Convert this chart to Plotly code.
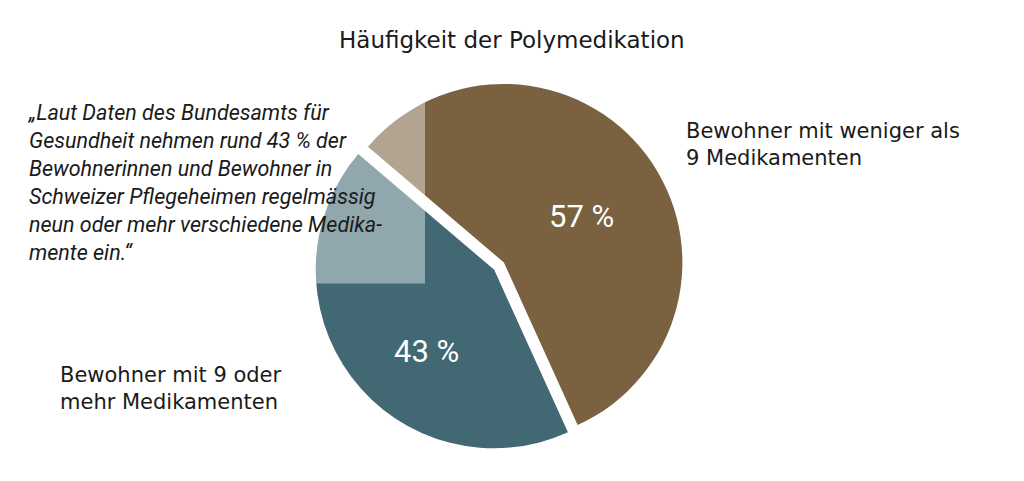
import plotly.graph_objects as go

categories = ["Bewohner mit weniger als<br>9 Medikamenten", "Bewohner mit 9 oder<br>mehr Medikamenten"]
values = [57, 43]
colors = ["#7a6240", "#416873"]
pulls = [0.068, 0]
title_text = "Häufigkeit der Polymedikation"
quote_text = ("„Laut Daten des Bundesamts für<br>Gesundheit nehmen rund 43 % der<br>"
              "Bewohnerinnen und Bewohner in<br>Schweizer Pflegeheimen regelmässig<br>"
              "neun oder mehr verschiedene Medika-<br>mente ein.“")

W, H = 1024, 481
OFF = 8  # page body margin
def px(x):
    return (x - OFF) / W
def py(y):
    return 1 - (y - OFF) / H

R = 178.5
CX, CY = 494.2, 269.8
half = R * (1 + max(pulls))

fig = go.Figure()
fig.add_trace(go.Pie(
    labels=categories, values=values, sort=False, direction="clockwise",
    rotation=-49.6, pull=pulls,
    marker=dict(colors=colors, line=dict(width=0)),
    textinfo="none",
    showlegend=False, hoverinfo="skip",
    domain=dict(x=[px(CX - 260), px(CX + 260)], y=[py(CY + half), py(CY - half)]),
))

# semi-transparent white box behind quote
fig.add_shape(type="rect", xref="paper", yref="paper",
              x0=px(20), x1=px(425), y0=py(283.5), y1=py(92),
              fillcolor="rgba(255,255,255,0.42)", line=dict(width=0), layer="above")

fig.add_annotation(text=quote_text, xref="paper", yref="paper", x=px(25), y=py(98),
                   xanchor="left", yanchor="top", align="left", showarrow=False,
                   font=dict(family="Roboto, sans-serif", size=21.5, color="#1a1a1a", style="italic"))

fig.add_annotation(text=title_text, xref="paper", yref="paper", x=px(512), y=py(40),
                   xanchor="center", yanchor="middle", showarrow=False,
                   font=dict(family="DejaVu Sans, sans-serif", size=23, color="#1a1a1a"))

fig.add_annotation(text=categories[0], xref="paper", yref="paper", x=px(684), y=py(117),
                   xanchor="left", yanchor="top", align="left", showarrow=False,
                   font=dict(family="DejaVu Sans, sans-serif", size=21, color="#1a1a1a"))
fig.add_annotation(text=categories[1], xref="paper", yref="paper", x=px(58), y=py(361),
                   xanchor="left", yanchor="top", align="left", showarrow=False,
                   font=dict(family="DejaVu Sans, sans-serif", size=21, color="#1a1a1a"))

# percentage labels
label_pos = [(581, 217), (426, 351)]
for v, (lx, ly) in zip(values, label_pos):
    fig.add_annotation(text=f"{v} %", xref="paper", yref="paper", x=px(lx), y=py(ly),
                       xanchor="center", yanchor="middle", showarrow=False,
                       font=dict(family="Roboto, sans-serif", size=31, color="white"))

fig.update_layout(width=W, height=H, margin=dict(l=0, r=0, t=0, b=0),
                  paper_bgcolor="white", plot_bgcolor="white")
fig.write_html("out.html")
